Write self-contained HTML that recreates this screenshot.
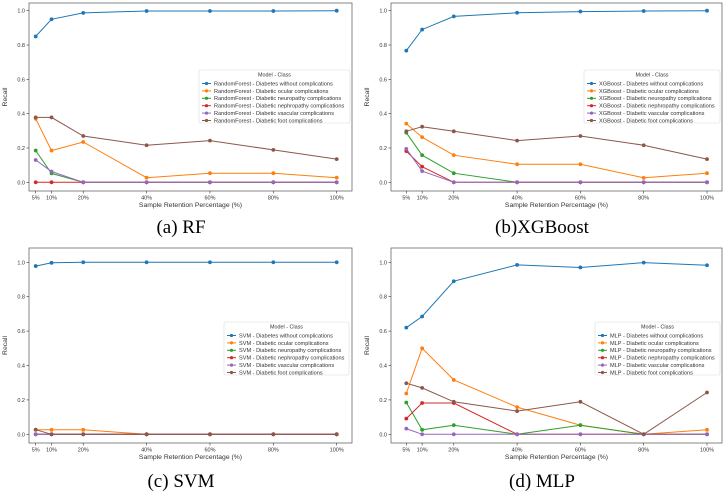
<!DOCTYPE html>
<html><head><meta charset="utf-8"><style>
body{margin:0;background:#fff;}
svg{display:block;font-family:"Liberation Sans",sans-serif;}
.cap{font-family:"Liberation Serif",serif;font-size:19px;fill:#000;}
</style></head><body>
<svg id="chart" width="724" height="491" viewBox="0 0 724 491"></svg>
<script>
const categories = [5,10,20,40,60,80,100];
const tickLabels = ["5%","10%","20%","40%","60%","80%","100%"];
const yTicks = [0,0.2,0.4,0.6,0.8,1.0];
const classNames = ["Diabetes without complications","Diabetic ocular complications","Diabetic neuropathy complications","Diabetic nephropathy complications","Diabetic vascular complications","Diabetic foot complications"];
const colors = ["#1f77b4","#ff7f0e","#2ca02c","#d62728","#9467bd","#8c564b"];
const rfBlue = [0.85,0.95,0.987,0.998,0.998,0.998,1.0];
const rfOrange = [0.37,0.185,0.235,0.027,0.053,0.053,0.027];
const rfGreen = [0.185,0.052,0,0,0,0,0];
const rfRed = [0,0,0,0,0,0,0];
const rfPurple = [0.13,0.063,0,0,0,0,0];
const rfBrown = [0.378,0.378,0.27,0.216,0.243,0.189,0.135];
const xgbBlue = [0.767,0.89,0.967,0.988,0.995,0.998,1.0];
const xgbOrange = [0.342,0.263,0.158,0.105,0.105,0.026,0.053];
const xgbGreen = [0.289,0.158,0.053,0,0,0,0];
const xgbRed = [0.182,0.091,0,0,0,0,0];
const xgbPurple = [0.195,0.065,0,0,0,0,0];
const xgbBrown = [0.297,0.324,0.297,0.243,0.27,0.216,0.135];
const svmBlue = [0.978,0.997,1,1,1,1,1];
const svmOrange = [0.026,0.026,0.026,0,0,0,0];
const svmGreen = [0,0,0,0,0,0,0];
const svmRed = [0,0,0,0,0,0,0];
const svmPurple = [0,0,0,0,0,0,0];
const svmBrown = [0.027,0,0,0,0,0,0];
const mlpBlue = [0.62,0.685,0.89,0.985,0.97,0.998,0.983];
const mlpOrange = [0.237,0.5,0.316,0.158,0.053,0,0.026];
const mlpGreen = [0.185,0.026,0.053,0,0.053,0,0];
const mlpRed = [0.091,0.182,0.182,0,0,0,0];
const mlpPurple = [0.033,0,0,0,0,0,0];
const mlpBrown = [0.297,0.27,0.189,0.135,0.189,0,0.243];

const NS="http://www.w3.org/2000/svg";
const svg=document.getElementById('chart');
function mk(tag,attrs,parent,text){const e=document.createElementNS(NS,tag);for(const k in attrs)e.setAttribute(k,attrs[k]);if(text!==undefined)e.textContent=text;(parent||svg).appendChild(e);return e;}

const panels=[
 {id:'rf',model:'RandomForest',cap:'(a) RF',series:[rfBlue,rfOrange,rfGreen,rfRed,rfPurple,rfBrown],
  box:[29,3,352,191],x5:35.7,x100:336.7,y1:10.7,y0:182.3,leg:[199,70,350,123],capX:181,capY:233},
 {id:'xgb',model:'XGBoost',cap:'(b)XGBoost',series:[xgbBlue,xgbOrange,xgbGreen,xgbRed,xgbPurple,xgbBrown],
  box:[391,3,722,191],x5:406.3,x100:707,y1:10.7,y0:182.3,leg:[584,70,720,123],capX:542,capY:233},
 {id:'svm',model:'SVM',cap:'(c) SVM',series:[svmBlue,svmOrange,svmGreen,svmRed,svmPurple,svmBrown],
  box:[29,248,352,443],x5:35.7,x100:336.7,y1:262.3,y0:434.3,leg:[224,322,349,375],capX:181,capY:487},
 {id:'mlp',model:'MLP',cap:'(d) MLP',series:[mlpBlue,mlpOrange,mlpGreen,mlpRed,mlpPurple,mlpBrown],
  box:[391,248,722,443],x5:406.3,x100:707,y1:262.3,y0:434.3,leg:[595,322,720,375],capX:542,capY:487}
];

panels.forEach(p=>{
  const g=mk('g',{});
  
  
  const xs=v=>p.x5+(v-5)*(p.x100-p.x5)/95;
  const ys=v=>p.y0+v*(p.y1-p.y0);
  const [l,t,r,b]=p.box;
  const frame=mk('rect',{x:l,y:t,width:r-l,height:b-t,fill:'none',stroke:'#555','stroke-width':0.7},g);
  
  
  yTicks.forEach(v=>{
    mk('line',{x1:l-2.5,x2:l,y1:ys(v),y2:ys(v),stroke:'#333','stroke-width':0.6},g);
    const tx=mk('text',{x:l-4,y:ys(v)+2,'font-size':5.5,'text-anchor':'end',fill:'#333'},g,v.toFixed(1));
    
    
  });
  categories.forEach((c,i)=>{
    mk('line',{x1:xs(c),x2:xs(c),y1:b,y2:b+2.5,stroke:'#333','stroke-width':0.6},g);
    const tx=mk('text',{x:xs(c),y:b+8.5,'font-size':5.5,'text-anchor':'middle',fill:'#333'},g,tickLabels[i]);
    
    
  });
  const xl=mk('text',{x:(l+r)/2,y:b+16,'font-size':6.8,'text-anchor':'middle',fill:'#333'},g,'Sample Retention Percentage (%)');
  
  
  const yl=mk('text',{x:0,y:0,'font-size':6.8,'text-anchor':'middle',fill:'#333',transform:`translate(${l-22},${(t+b)/2}) rotate(-90)`},g,'Recall');
  
  
  p.series.forEach((vals,si)=>{
    const pts=vals.map((v,i)=>xs(categories[i]).toFixed(1)+','+ys(v).toFixed(1)).join(' ');
    const line=mk('polyline',{points:pts,fill:'none',stroke:colors[si],'stroke-width':1},g);
    
    
    vals.forEach((v,i)=>{
      const c=mk('circle',{cx:xs(categories[i]),cy:ys(v),r:1.9,fill:colors[si]},g);
      
      
    });
  });
  const [lx,ly,rx,ry]=p.leg;
  const lg=mk('g',{},g);
  
  
  mk('rect',{x:lx,y:ly,width:rx-lx,height:ry-ly,fill:'#fff',stroke:'#ddd','stroke-width':0.6,rx:1.5},lg);
  mk('text',{x:(lx+rx)/2,y:ly+6.5,'font-size':5.4,'text-anchor':'middle',fill:'#333'},lg,'Model - Class');
  classNames.forEach((n,i)=>{
    const yy=ly+13.5+i*7.4;
    const e=mk('g',{},lg);
    
    
    mk('line',{x1:lx+3,x2:lx+12,y1:yy,y2:yy,stroke:colors[i],'stroke-width':1},e);
    mk('circle',{cx:lx+7.5,cy:yy,r:1.6,fill:colors[i]},e);
    mk('text',{x:lx+15,y:yy+1.9,'font-size':5.6,fill:'#333'},e,p.model+' - '+n);
  });
  const cap=mk('text',{x:p.capX,y:p.capY,'text-anchor':'middle',class:'cap'},g,p.cap);
  
  
});
</script>
</body></html>
